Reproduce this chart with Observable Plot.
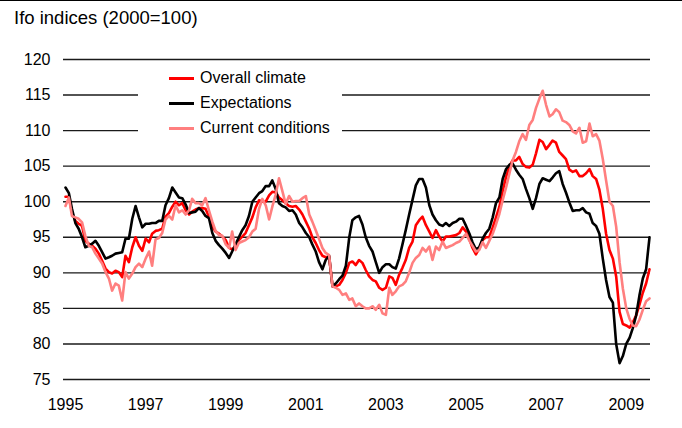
<!DOCTYPE html>
<html><head><meta charset="utf-8">
<script src="https://cdn.jsdelivr.net/npm/d3@7"></script>
<script src="https://cdn.jsdelivr.net/npm/@observablehq/plot@0.6"></script>
<style>
body{margin:0;background:#fff;font-family:"Liberation Sans",Arial,sans-serif;color:#000;}
#wrap{position:relative;width:682px;height:428px;overflow:hidden;background:#fff;}
#topline{position:absolute;left:0;top:0;width:682px;height:1px;background:#000;}
#title{position:absolute;left:14px;top:9px;font-size:18.5px;line-height:18.5px;white-space:nowrap;}
#chart{position:absolute;left:0;top:36px;}
#legend{position:absolute;left:138px;top:64px;width:204px;height:76px;background:#fff;}
.row{position:absolute;left:0;height:20px;font-size:16px;line-height:20px;width:204px;}
.sw{position:absolute;left:31px;top:9px;width:25px;height:3px;}
.lbl{position:absolute;left:62px;top:0;white-space:nowrap;}
</style>
</head><body>
<div id="wrap">
  <div id="topline"></div>
  <div id="title">Ifo indices (2000=100)</div>
  <div id="chart"></div>
  <div id="legend"></div>
</div>
<script>
// Monthly values, Jan 1995 - Aug 2009
const overallClimate = [
  100.7,100.7,98.5,97.3,96.9,96.6,94.5,94.1,93.8,93.4,92.7,91.7,
  90.6,90.1,89.9,90.3,90.1,89.4,92.4,91.5,93.6,95.0,93.8,93.1,
  94.8,94.3,95.5,95.9,96.0,96.2,97.9,98.4,99.3,100.0,99.5,99.8,
  98.8,98.2,98.6,98.9,99.1,99.1,99.0,97.9,96.5,95.8,95.5,95.1,
  94.6,93.5,93.3,93.8,94.6,95.1,95.6,96.7,97.8,99.2,100.2,100.0,
  100.0,100.9,101.4,101.3,100.6,100.2,99.8,99.4,99.3,99.4,98.9,98.2,
  97.2,96.2,95.0,94.2,93.2,92.4,92.2,92.3,88.1,88.1,88.3,89.0,
  90.0,91.4,91.6,91.1,91.8,91.4,90.4,89.5,89.0,88.8,87.9,87.6,
  87.9,89.5,89.3,88.3,89.7,90.7,91.8,93.5,94.4,96.7,97.4,97.9,
  96.7,95.8,94.9,96.0,95.1,94.4,95.1,95.1,95.2,95.3,95.6,96.4,
  95.8,94.7,93.5,92.6,93.4,94.6,95.0,95.0,96.4,97.8,99.3,101.5,
  103.5,105.0,105.8,105.8,106.3,105.3,104.9,104.8,105.2,106.8,108.7,108.4,
  107.4,108.0,108.6,108.3,107.0,106.5,106.0,104.5,104.2,104.4,103.6,103.6,
  104.0,104.6,103.6,103.2,101.7,99.0,95.5,93.2,92.0,89.5,84.5,82.8,
  82.6,82.3,83.0,84.0,85.5,87.2,88.5,90.5
];
const expectations = [
  102.0,101.2,99.0,97.0,96.2,95.0,93.6,93.8,94.1,94.5,93.8,92.9,
  92.0,92.2,92.4,92.7,92.8,92.9,94.8,94.8,97.6,99.4,97.8,96.4,
  96.9,96.9,97.0,97.0,97.3,97.3,99.5,100.5,102.0,101.3,100.6,100.5,
  99.6,98.4,98.5,98.6,99.1,98.7,98.0,97.7,95.6,94.5,93.9,93.4,
  92.8,92.1,93.0,94.0,95.0,96.0,96.7,98.0,100.0,100.6,101.2,101.5,
  102.2,102.2,103.0,101.8,99.8,99.4,99.2,98.7,98.8,98.2,97.0,96.4,
  95.6,95.0,94.0,93.0,91.5,90.5,91.8,92.4,88.1,88.5,89.1,89.6,
  91.0,95.0,97.4,97.8,98.0,96.8,95.0,93.8,93.0,91.5,90.0,90.8,
  91.2,91.2,90.8,90.6,92.0,94.0,96.0,98.2,100.3,102.3,103.2,103.2,
  102.0,99.5,98.2,97.4,96.8,96.6,97.0,96.6,97.0,97.2,97.6,97.6,
  96.6,95.5,94.3,93.3,93.6,94.8,95.6,96.2,97.8,99.8,100.6,103.2,
  104.6,105.2,105.4,104.5,103.8,103.2,101.8,100.5,99.0,100.5,102.5,103.3,
  103.1,102.9,103.4,104.0,104.3,102.5,101.3,99.9,98.7,98.8,98.8,99.1,
  98.5,98.3,97.0,96.6,95.5,92.0,89.0,86.6,85.8,80.0,77.3,78.3,
  80.0,80.9,82.2,84.0,86.8,89.2,90.5,95.0
];
const currentConditions = [
  99.4,100.6,98.0,97.8,97.6,97.1,95.2,93.8,93.6,92.7,92.0,91.3,
  90.1,89.2,87.5,88.5,88.2,86.1,90.1,89.2,89.9,90.8,91.3,90.8,
  92.0,93.0,91.0,94.7,94.9,95.6,97.5,98.0,97.5,99.5,98.5,98.8,
  98.2,98.8,100.4,99.8,99.8,99.5,100.5,98.8,97.2,95.9,95.3,95.2,
  94.0,93.5,95.8,93.2,94.2,94.4,94.6,95.0,95.8,96.2,99.0,100.4,
  99.5,97.5,99.3,101.0,103.3,101.5,99.7,100.8,100.0,100.1,100.1,100.5,
  100.8,98.2,97.2,96.0,94.8,93.5,92.8,92.5,88.1,87.9,87.6,86.9,
  87.1,86.2,86.4,85.3,85.7,85.3,85.0,85.0,85.3,84.8,85.5,84.3,
  84.1,87.9,86.9,87.4,88.1,88.3,88.8,90.0,91.4,92.1,92.5,93.5,
  93.0,93.7,91.8,93.7,93.2,94.4,93.5,93.7,93.9,94.2,94.4,94.9,
  95.5,94.5,93.8,93.0,93.2,94.3,93.5,94.5,95.5,96.8,98.3,100.2,
  102.0,104.0,105.8,107.0,108.5,109.5,108.7,110.8,111.5,113.2,114.5,115.6,
  113.6,112.0,112.3,113.0,112.6,111.4,111.2,110.8,109.9,109.6,110.4,108.3,
  108.5,111.0,109.2,109.5,108.6,106.0,103.0,100.0,99.4,96.5,91.5,87.8,
  85.0,83.5,82.6,82.5,83.4,84.8,86.0,86.4
];
const seriesNames = ["Overall climate", "Expectations", "Current conditions"];
const seriesColors = ["#ff0000", "#000000", "#ff7f7f"];
const yTickValues = [75, 80, 85, 90, 95, 100, 105, 110, 115, 120];
const xTickYears = [1995, 1997, 1999, 2001, 2003, 2005, 2007, 2009];
const startYear = 1995;

const seriesData = [overallClimate, expectations, currentConditions];
const months = overallClimate.map((_, i) => new Date(Date.UTC(startYear, i, 1)));
const rows = seriesData.map((vals, s) => vals.map((v, i) => ({date: months[i], value: v, series: seriesNames[s]})));
const xTicks = xTickYears.map(y => new Date(Date.UTC(y, 0, 1)));

const chart = Plot.plot({
  width: 682,
  height: 392,
  marginTop: 23,
  marginBottom: 49,
  marginLeft: 65,
  marginRight: 33,
  style: {fontFamily: '"Liberation Sans", Arial, sans-serif', fontSize: "16px", color: "#000", background: "transparent", overflow: "visible"},
  x: {type: "utc", domain: [months[0], months[months.length - 1]]},
  y: {domain: [75, 120]},
  marks: [
    Plot.ruleY(yTickValues, {stroke: "#1a1a1a", strokeWidth: 1.4, insetLeft: -2, insetRight: -1}),
    Plot.axisY({ticks: yTickValues, tickSize: 0, tickPadding: 15, fontSize: 16, label: null}),
    Plot.axisX({ticks: xTicks, tickSize: 0, tickPadding: 19, tickFormat: d3.utcFormat("%Y"), fontSize: 16, label: null}),
    ...rows.map((r, s) => Plot.lineY(r, {x: "date", y: "value", stroke: seriesColors[s], strokeWidth: 2.6, strokeLinejoin: "round"}))
  ]
});
document.getElementById("chart").appendChild(chart);

const legend = document.getElementById("legend");
seriesNames.forEach((name, s) => {
  const row = document.createElement("div");
  row.className = "row";
  row.style.top = (4 + s * 25) + "px";
  const sw = document.createElement("div");
  sw.className = "sw";
  sw.style.background = seriesColors[s];
  const lbl = document.createElement("div");
  lbl.className = "lbl";
  lbl.textContent = name;
  row.appendChild(sw);
  row.appendChild(lbl);
  legend.appendChild(row);
});
</script>
</body></html>
